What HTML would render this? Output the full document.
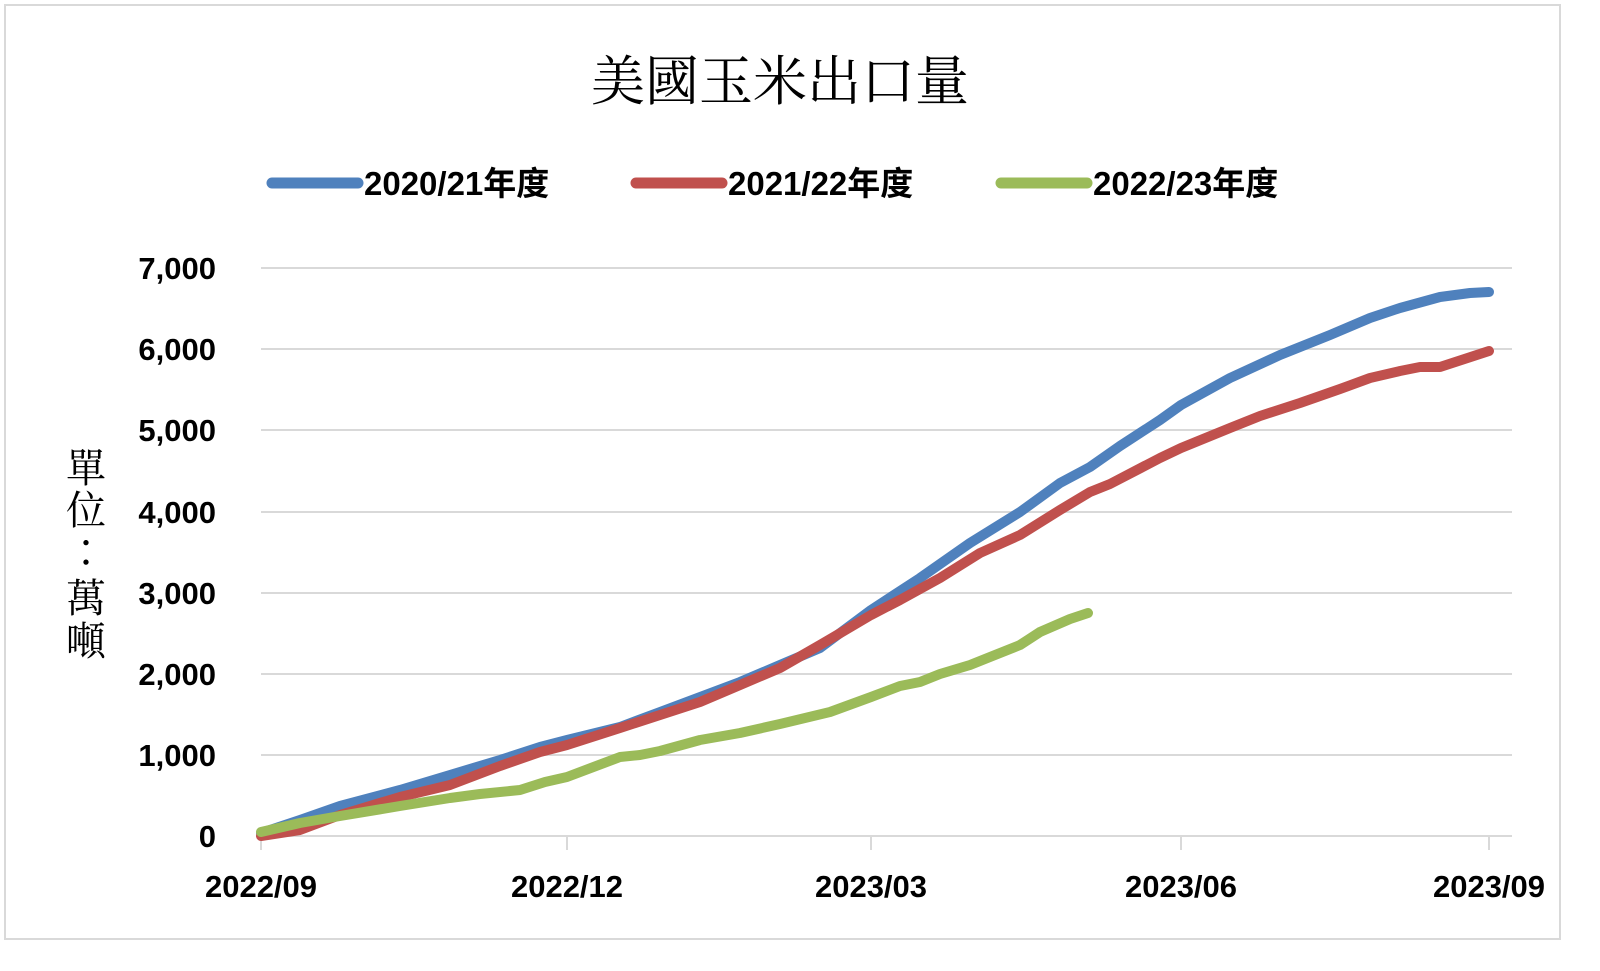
<!DOCTYPE html>
<html><head><meta charset="utf-8"><style>
body{margin:0;width:1600px;height:966px;background:#fff;overflow:hidden}
</style></head><body>
<svg width="1600" height="966" xmlns="http://www.w3.org/2000/svg" font-family="Liberation Sans, Noto Sans CJK TC, sans-serif">
<rect x="5" y="5" width="1555" height="934" fill="#fff" stroke="#d9d9d9" stroke-width="2"/>
<text x="780" y="100" font-size="54" text-anchor="middle" font-family="Noto Serif CJK SC, serif">美國玉米出口量</text>
<g stroke-linecap="round" stroke-width="11">
<line x1="272" y1="183" x2="358" y2="183" stroke="#4f81bd"/>
<line x1="636" y1="183" x2="722" y2="183" stroke="#c0504d"/>
<line x1="1001" y1="183" x2="1087" y2="183" stroke="#9bbb59"/>
</g>
<g font-size="33" font-weight="bold">
<text x="364" y="195">2020/21年度</text>
<text x="728" y="195">2021/22年度</text>
<text x="1093" y="195">2022/23年度</text>
</g>
<g stroke="#d9d9d9" stroke-width="2">
<line x1="261" x2="1512" y1="268" y2="268"/><line x1="261" x2="1512" y1="349" y2="349"/>
<line x1="261" x2="1512" y1="430" y2="430"/><line x1="261" x2="1512" y1="512" y2="512"/>
<line x1="261" x2="1512" y1="593" y2="593"/><line x1="261" x2="1512" y1="674" y2="674"/>
<line x1="261" x2="1512" y1="755" y2="755"/><line x1="261" x2="1512" y1="836" y2="836"/>
<line x1="261" x2="261" y1="836" y2="850"/><line x1="567" x2="567" y1="836" y2="850"/>
<line x1="871" x2="871" y1="836" y2="850"/><line x1="1181" x2="1181" y1="836" y2="850"/>
<line x1="1489" x2="1489" y1="836" y2="850"/>
</g>
<g font-size="31" font-weight="bold" text-anchor="end">
<text x="216" y="279">7,000</text><text x="216" y="360">6,000</text><text x="216" y="441">5,000</text>
<text x="216" y="523">4,000</text><text x="216" y="604">3,000</text><text x="216" y="685">2,000</text>
<text x="216" y="766">1,000</text><text x="216" y="847">0</text>
</g>
<g font-size="31" font-weight="bold" text-anchor="middle">
<text x="261" y="897">2022/09</text><text x="567" y="897">2022/12</text><text x="871" y="897">2023/03</text>
<text x="1181" y="897">2023/06</text><text x="1489" y="897">2023/09</text>
</g>
<g font-size="40" text-anchor="middle" font-family="Noto Serif CJK TC, serif">
<text x="86" y="482">單</text><text x="86" y="524">位</text><text x="86" y="566">：</text><text x="86" y="612">萬</text><text x="86" y="655">噸</text>
</g>
<g fill="none" stroke-width="10" stroke-linejoin="round" stroke-linecap="round">
<polyline stroke="#4f81bd" points="261,833 300,820 340,806 400,790 450,775 500,760 540,747 567,740 620,727 660,712 700,697 740,682 780,665 820,648 871,610 920,578 970,543 1020,512 1060,483 1090,467 1120,446 1160,420 1181,405 1230,378 1280,355 1330,335 1370,318 1400,308 1440,297 1470,293 1489,292"/>
<polyline stroke="#c0504d" points="261,836 300,830 340,815 400,797 450,785 500,766 540,752 567,745 620,728 660,715 700,702 740,685 780,668 820,645 871,615 900,600 940,578 980,553 1020,535 1060,510 1090,492 1110,484 1160,458 1181,448 1230,428 1260,416 1300,403 1340,389 1370,378 1400,371 1420,367 1440,367 1489,351"/>
<polyline stroke="#9bbb59" points="261,832 300,823 340,816 400,806 450,798 480,794 520,790 545,782 567,777 620,757 640,755 660,751 700,740 740,733 780,724 830,712 871,697 900,686 920,682 940,674 970,665 990,657 1020,645 1040,632 1070,619 1088,613"/>
</g>
</svg>
</body></html>
